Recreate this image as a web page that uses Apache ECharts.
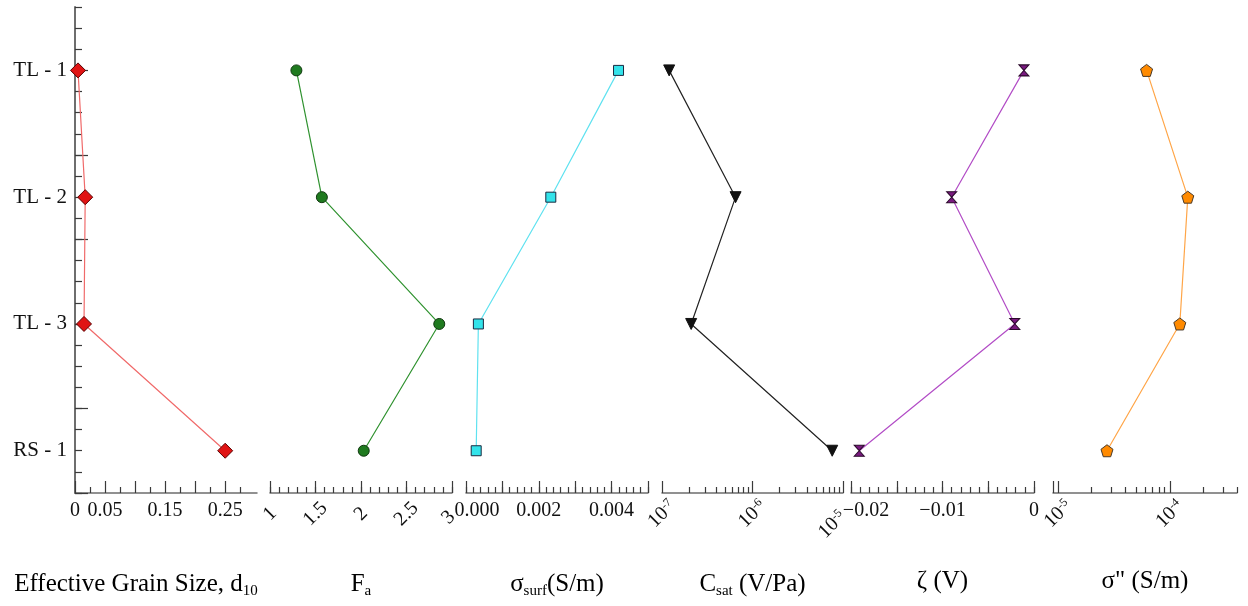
<!DOCTYPE html>
<html>
<head>
<meta charset="utf-8">
<script src="https://cdn.jsdelivr.net/npm/echarts@6/dist/echarts.min.js"></script>
<style>
  html, body { margin: 0; padding: 0; background: #fff; }
  #chart { width: 1248px; height: 606px; }
</style>
</head>
<body>
<div id="chart"></div>
<script>
// Samples down the profile and their row positions on the shared vertical axis
const samples = ['TL - 1', 'TL - 2', 'TL - 3', 'RS - 1'];
const samplePos = [1, 2, 3, 4];

// Measured properties, one value per sample (same order as `samples`)
const d10 = [0.005, 0.017, 0.015, 0.25];
const fa = [1.29, 1.57, 2.86, 2.03];
const sigmaSurf = [0.00419, 0.00233, 0.00034, 0.00028];
const cSat = [1.2e-7, 6.5e-7, 2.1e-7, 7.6e-6];
const zeta = [-0.0011, -0.0090, -0.0021, -0.0191];
const sigmaImag = [6.2e-5, 1.45e-4, 1.23e-4, 2.74e-5];

// Tick labels
const d10Labels = [0, 0.05, 0.15, 0.25];
const faLabels = [1, 1.5, 2, 2.5, 3];
const surfLabels = [0, 0.002, 0.004];
const cSatExponents = [-7, -6, -5];
const zetaLabels = [-0.02, -0.01, 0];
const sigmaExponents = [-5, -4];

const SERIF = 'Liberation Serif';
const AXIS_GREY = '#6e6e6e';
const TICK_DARK = '#3a3a3a';

function steps(from, to, step) {
  const n = Math.round((to - from) / step);
  return Array.from({ length: n + 1 }, (_, k) => +(from + k * step).toFixed(8));
}
function logMinor(decades, lo, hi) {
  const out = [];
  decades.forEach(d => { for (let k = 2; k <= 9; k++) out.push(Math.log10(k) + d); });
  return out.filter(v => v >= lo - 1e-9 && v <= hi + 1e-9);
}
const log10 = v => Math.log10(v);

// Panel layout: left edge and width of each strip (px)
const panels = [
  { left: 75, width: 182 },
  { left: 270, width: 182 },
  { left: 466, width: 182 },
  { left: 662, width: 181 },
  { left: 851, width: 183 },
  { left: 1053, width: 184 }
];
const TOP = 7, HEIGHT = 486;

const grids = panels.map(p => ({
  left: p.left, top: TOP, width: p.width, height: HEIGHT,
  containLabel: false, outerBoundsMode: 'none'
}));

const labelBase = { fontFamily: SERIF, fontSize: 20, color: '#111', margin: 8 };
const rotatedLabel = { rotate: 45, align: 'center', verticalAlign: 'middle', margin: 21 };
const nameStyle = {
  fontFamily: SERIF, fontSize: 25, color: '#000',
  rich: { sub: { fontFamily: SERIF, fontSize: 15, verticalAlign: 'bottom', lineHeight: 30 } }
};
const supRich = {
  b: { fontFamily: SERIF, fontSize: 20, color: '#111' },
  s: { fontFamily: SERIF, fontSize: 12, color: '#111', verticalAlign: 'top' }
};
const tenPow = v => '{b|10}{s|' + Math.round(v) + '}';
const minus = s => s.replace('-', '\u2212');

// Each strip: main axis (labels + long ticks) and a companion axis for short ticks
const stripAxes = [
  {
    min: 0, max: 0.303,
    major: steps(0, 0.25, 0.05), minor: steps(0.025, 0.275, 0.05),
    label: Object.assign({}, labelBase, { customValues: d10Labels, formatter: v => String(v) }),
    name: 'Effective Grain Size, d{sub|10}', namePad: [0, 60, 0, 0]
  },
  {
    min: 1, max: 3,
    major: steps(1, 3, 0.5), minor: steps(1, 3, 0.1),
    label: Object.assign({}, labelBase, rotatedLabel, { customValues: faLabels, formatter: v => String(v), alignMaxLabel: 'right' }),
    name: 'F{sub|a}', namePad: [0, 0, 0, 0]
  },
  {
    min: 0, max: 0.005,
    major: steps(0, 0.005, 0.001), minor: steps(0, 0.005, 0.0002),
    label: Object.assign({}, labelBase, {
      customValues: surfLabels,
      formatter: v => v === 0 ? '{p|0.000}' : v.toFixed(3),
      rich: { p: { fontFamily: SERIF, fontSize: 20, color: '#111', padding: [0, 0, 0, 22] } }
    }),
    name: '\u03c3{sub|surf}(S/m)', namePad: [0, 0, 0, 0]
  },
  {
    min: -7, max: -5,
    major: cSatExponents, minor: logMinor([-7, -6], -7, -5),
    label: Object.assign({}, labelBase, rotatedLabel, {
      customValues: cSatExponents, formatter: tenPow, rich: supRich, alignMaxLabel: 'right'
    }),
    name: 'C{sub|sat} (V/Pa)', namePad: [0, 0, 0, 0]
  },
  {
    min: -0.02, max: 0,
    major: steps(-0.02, 0, 0.005), minor: steps(-0.02, 0, 0.001),
    label: Object.assign({}, labelBase, {
      customValues: zetaLabels,
      formatter: v => v === 0 ? '0' : (v === -0.02 ? '{p|' + minus(v.toFixed(2)) + '}' : minus(v.toFixed(2))),
      rich: { p: { fontFamily: SERIF, fontSize: 20, color: '#111', padding: [0, 0, 0, 30] } }
    }),
    name: '\u03b6 (V)', namePad: [0, 0, 0, 0]
  },
  {
    min: log10(9e-6), max: log10(4e-4),
    major: [log10(9e-6)].concat(sigmaExponents), minor: logMinor([-5, -4], log10(9e-6), log10(4e-4)),
    label: Object.assign({}, labelBase, rotatedLabel, {
      customValues: sigmaExponents, formatter: tenPow, rich: supRich
    }),
    name: '\u03c3" (S/m)', namePad: [0, 0, 0, 0]
  }
];

const xAxes = [];
stripAxes.forEach((a, i) => {
  xAxes.push({
    type: 'value', gridIndex: i, position: 'bottom', min: a.min, max: a.max,
    axisLine: { show: true, onZero: false, lineStyle: { color: AXIS_GREY, width: 1.5 } },
    axisTick: { show: true, inside: true, length: 12, customValues: a.major, lineStyle: { color: TICK_DARK, width: 1.2 } },
    axisLabel: a.label,
    splitLine: { show: false },
    name: a.name, nameLocation: 'middle', nameGap: 76,
    nameTextStyle: Object.assign({}, nameStyle, { padding: a.namePad })
  });
  xAxes.push({
    type: 'value', gridIndex: i, position: 'bottom', min: a.min, max: a.max,
    axisLine: { show: false, onZero: false },
    axisTick: { show: true, inside: true, length: 6, customValues: a.minor, lineStyle: { color: TICK_DARK, width: 1.2 } },
    axisLabel: { show: false },
    splitLine: { show: false }
  });
});

const Y_MIN = 3 / 6, Y_MAX = 13 / 3;
const yMajor = [3, 5, 7, 9, 11, 13].map(n => n / 3);
const yMinor = steps(3, 26, 1).map(n => n / 6);

const yAxes = [
  {
    type: 'value', gridIndex: 0, position: 'left', inverse: true, min: Y_MIN, max: Y_MAX,
    axisLine: { show: true, onZero: false, lineStyle: { color: AXIS_GREY, width: 2 } },
    axisTick: { show: true, inside: true, length: 13, customValues: yMajor, lineStyle: { color: TICK_DARK, width: 1.2 } },
    axisLabel: {
      customValues: samplePos, formatter: v => samples[samplePos.indexOf(Math.round(v))],
      fontFamily: SERIF, fontSize: 21, color: '#111', margin: 8
    },
    splitLine: { show: false }
  },
  {
    type: 'value', gridIndex: 0, position: 'left', inverse: true, min: Y_MIN, max: Y_MAX,
    axisLine: { show: false, onZero: false },
    axisTick: { show: true, inside: true, length: 7, customValues: yMinor, lineStyle: { color: TICK_DARK, width: 1.2 } },
    axisLabel: { show: false },
    splitLine: { show: false }
  }
];
for (let i = 1; i < panels.length; i++) {
  yAxes.push({ type: 'value', gridIndex: i, inverse: true, min: Y_MIN, max: Y_MAX, show: false });
}

const HOURGLASS = 'path://M0,0L10,0L5,5ZM5,5L10,10L0,10Z';
const PENTAGON = 'path://M50,0L97.6,34.5L79.4,90.5L20.6,90.5L2.4,34.5Z';

const profiles = [
  { values: d10, symbol: 'diamond', size: 15, fill: '#e01414', border: '#5a0000', line: '#f06a6a' },
  { values: fa, symbol: 'circle', size: 11, fill: '#1f7a1f', border: '#103810', line: '#2f922f' },
  { values: sigmaSurf, symbol: 'rect', size: 10, fill: '#33e3ea', border: '#1b2a40', line: '#5fe2f0' },
  { values: cSat.map(log10), symbol: 'triangle', rotate: 180, size: 11, fill: '#111', border: '#111', line: '#222' },
  { values: zeta, symbol: HOURGLASS, size: [10, 11], fill: '#7a1a80', border: '#2a0a2a', line: '#b24cc6' },
  { values: sigmaImag.map(log10), symbol: PENTAGON, size: 12, fill: '#ff8a00', border: '#4a3a2a', line: '#ffa547' }
];

const series = profiles.map((p, i) => ({
  type: 'line',
  xAxisIndex: 2 * i,
  yAxisIndex: i === 0 ? 0 : i + 1,
  data: p.values.map((v, k) => [v, samplePos[k]]),
  symbol: p.symbol,
  symbolSize: p.size,
  symbolRotate: p.rotate || 0,
  showAllSymbol: true,
  lineStyle: { color: p.line, width: 1.2 },
  itemStyle: { color: p.fill, borderColor: p.border, borderWidth: 1 },
  emphasis: { disabled: true },
  z: 3
}));

const chart = echarts.init(document.getElementById('chart'), null, { renderer: 'canvas' });
chart.setOption({
  animation: false,
  backgroundColor: '#fff',
  grid: grids,
  xAxis: xAxes,
  yAxis: yAxes,
  series: series
});
</script>
</body>
</html>
